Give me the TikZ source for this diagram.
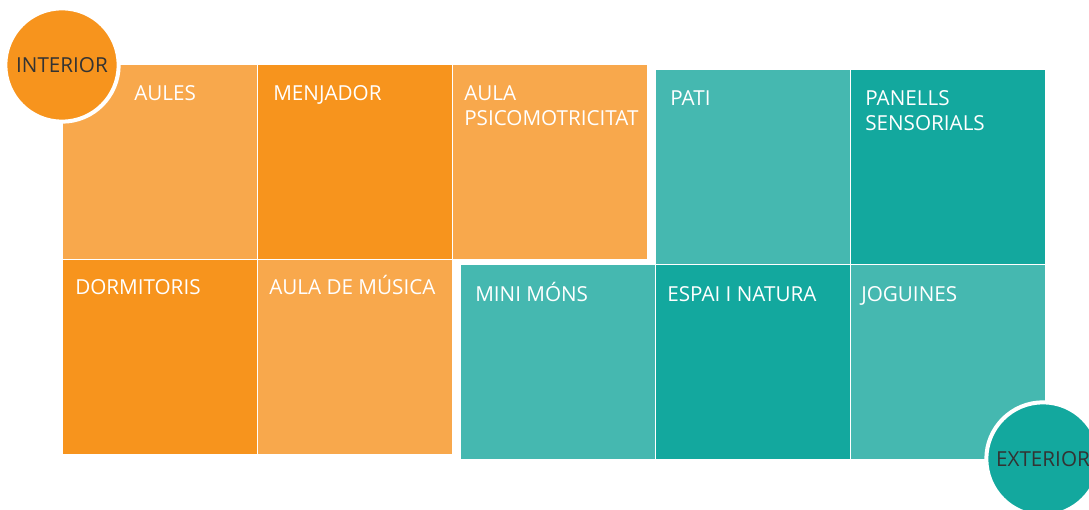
\documentclass[tikz,border=0pt]{standalone}
\usepackage{fontspec}
\setmainfont{Open Sans}
\usepackage{xcolor}
\definecolor{orDark}{HTML}{F7941D}
\definecolor{orLight}{HTML}{F8A84C}
\definecolor{tlLight}{HTML}{45B8B0}
\definecolor{tlDark}{HTML}{13A89E}
\definecolor{txtDark}{HTML}{333333}

\begin{document}
\begin{tikzpicture}[x=0.75pt,y=-0.75pt,
		tile/.style={anchor=north west,inner sep=0pt,minimum width=145pt,minimum height=145pt},
		tag/.style={anchor=base west,inner sep=0pt,text=white,font=\fontsize{15.5}{18.75}\selectfont,align=left},
		badge/.style={circle,draw=white,line width=3pt,minimum size=85pt,inner sep=0pt,text=txtDark,font=\fontsize{15.5}{19}\selectfont}]
		\useasboundingbox (0,0) rectangle (1089,510);
		%%  Interior  %%%%%%%%
		\node[tile,fill=orLight] (aules) at (63,65) {};
		\node[tile,fill=orDark] (menjador) at (258,65) {};
		\node[tile,fill=orLight] (psico) at (453,65) {};
		\node[tile,fill=orDark] (dormitoris) at (63,260) {};
		\node[tile,fill=orLight] (musica) at (258,260) {};
		%%  Exterior  %%%%%%%%
		\node[tile,fill=tlLight] (pati) at (656,70) {};
		\node[tile,fill=tlDark] (panells) at (851,70) {};
		\node[tile,fill=tlLight] (minimons) at (461,265) {};
		\node[tile,fill=tlDark] (natura) at (656,265) {};
		\node[tile,fill=tlLight] (joguines) at (851,265) {};
		%%  Labels  %%%%%%%%
		\node[tag] (taules) at (134,100) {AULES};
		\node[tag] (tmenjador) at (273,100) {MENJADOR};
		\node[tag] (tpsico) at (464,125) {AULA\\PSICOMOTRICITAT};
		\node[tag] (tdormitoris) at (75,294) {DORMITORIS};
		\node[tag] (tmusica) at (269,294) {AULA DE MÚSICA};
		\node[tag] (tpati) at (670,106) {PATI};
		\node[tag] (tpanells) at (865,131) {PANELLS\\SENSORIALS};
		\node[tag] (tminimons) at (475,301) {MINI MÓNS};
		\node[tag] (tnatura) at (667,301) {ESPAI I NATURA};
		\node[tag] (tjoguines) at (861,301) {JOGUINES};
		%%  Badges  %%%%%%%%
		\node[badge,fill=orDark] (interior) at (62,65) {INTERIOR};
		\node[badge,fill=tlDark] (exterior) at (1043,459) {EXTERIOR};
\end{tikzpicture}
\end{document}
